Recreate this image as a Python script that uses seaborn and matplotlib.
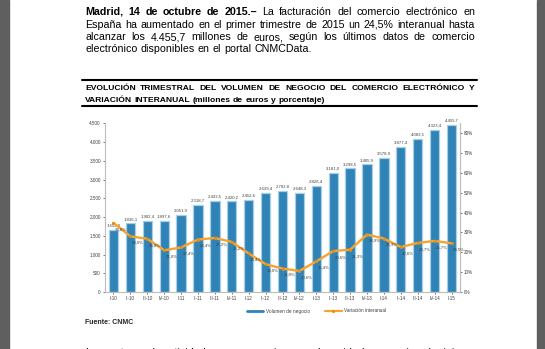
import numpy as np
import pandas as pd
import matplotlib
matplotlib.use("Agg")
import matplotlib.pyplot as plt
import seaborn as sns
from matplotlib.lines import Line2D
from matplotlib.patches import Rectangle

# --- datos ---------------------------------------------------------------
trimestres = ["I-10", "II-10", "III-10", "IV-10",
              "I-11", "II-11", "III-11", "IV-11",
              "I-12", "II-12", "III-12", "IV-12",
              "I-13", "II-13", "III-13", "IV-13",
              "I-14", "II-14", "III-14", "IV-14",
              "I-15"]
volumen_negocio = [1652.8, 1836.1, 1902.4, 1897.6,
                   2051.9, 2318.7, 2433.5, 2420.2,
                   2452.6, 2639.4, 2702.8, 2648.3,
                   2826.4, 3181.0, 3298.5, 3405.9,
                   3578.9, 3877.4, 4083.5, 4323.4,
                   4455.7]
variacion_interanual = [34.8, 28.0, 26.8, 21.0,
                        22.4, 26.4, 27.2, 25.2,
                        19.4, 14.0, 11.8, 10.6,
                        15.4, 20.6, 21.3, 28.9,
                        26.9, 22.6, 24.7, 25.7,
                        24.5]
eje_volumen = [0, 500, 1000, 1500, 2000, 2500, 3000, 3500, 4000, 4500]
eje_variacion = [0, 10, 20, 30, 40, 50, 60, 70, 80]
leyenda = ["Volumen de negocio", "Variación interanual"]

entradilla = "Madrid, 14 de octubre de 2015.–"
parrafo = [
    "Madrid, 14 de octubre de 2015.– La facturación del comercio electrónico en",
    "España ha aumentado en el primer trimestre de 2015 un 24,5% interanual hasta",
    "alcanzar los 4.455,7 millones de euros, según los últimos datos de comercio",
    "electrónico disponibles en el portal CNMCData.",
]
titulo = [
    "EVOLUCIÓN TRIMESTRAL DEL VOLUMEN DE NEGOCIO DEL COMERCIO ELECTRÓNICO Y",
    "VARIACIÓN INTERANUAL (millones de euros y porcentaje)",
]
fuente = "Fuente: CNMC"
siguiente = "Los sectores de actividad con mayores ingresos han sido las agencias de viajes y"

# --- estilo ---------------------------------------------------------------
sns.set_theme(style="white")
plt.rcParams["font.family"] = ["Liberation Sans", "DejaVu Sans"]

AZUL = "#2f83b6"
AZUL_CLARO = "#a6cfe8"
NARANJA = "#f7a42f"
GRIS_TXT = "#404040"

W, H = 545, 349
fig = plt.figure(figsize=(W / 100, H / 100), dpi=100)
fig.patch.set_facecolor("white")
renderer = fig.canvas.get_renderer()


def fx(x):
    return x / W


def fy(y):
    return 1 - y / H


def ancho(texto, size, weight):
    t = fig.text(0, 0, texto, fontsize=size, fontweight=weight)
    w = t.get_window_extent(renderer).width
    t.remove()
    return w


def linea(palabras, x0, x1, base, size, justificar=True, color="black"):
    anchos = [ancho(p, size, w) for p, w in palabras]
    espacio = ancho("n n", size, "normal") - ancho("nn", size, "normal")
    if justificar and len(palabras) > 1:
        espacio = (x1 - x0 - sum(anchos)) / (len(palabras) - 1)
    x = x0
    for (p, w), a in zip(palabras, anchos):
        fig.text(fx(x), fy(base), p, fontsize=size, fontweight=w,
                 va="baseline", ha="left", color=color)
        x += a + espacio


# --- párrafo de texto -----------------------------------------------------
n_negrita = len(entradilla.split())
for k, texto in enumerate(parrafo):
    palabras = []
    for j, p in enumerate(texto.split()):
        peso = "bold" if (k == 0 and j < n_negrita) else "normal"
        palabras.append((p, peso))
    linea(palabras, 85, 475, 15 + 12.5 * k, 7.7,
          justificar=(k < len(parrafo) - 1))

# --- título enmarcado ------------------------------------------------------
fig.add_artist(Line2D([fx(82), fx(477)], [fy(80), fy(80)],
                      color="black", lw=1.5, transform=fig.transFigure))
fig.add_artist(Line2D([fx(82), fx(477)], [fy(105.7), fy(105.7)],
                      color="black", lw=1.5, transform=fig.transFigure))
linea([(p, "bold") for p in titulo[0].split()], 85, 475, 89.5, 6.1)
linea([(p, "bold") for p in titulo[1].split()], 85, 475, 101.5, 6.1,
      justificar=False)

# --- gráfico ---------------------------------------------------------------
df = pd.DataFrame({"trimestre": trimestres,
                   "volumen": volumen_negocio,
                   "variacion": variacion_interanual})

ax = fig.add_axes([fx(105), fy(292), (460 - 105) / W, (292 - 123.3) / H])
sns.barplot(data=df, x="trimestre", y="volumen", color=AZUL, saturation=1,
            width=0.55, edgecolor=AZUL_CLARO, linewidth=0.9, ax=ax, zorder=2)
ax.set_xlim(-0.5, len(trimestres) - 0.5)
ax.set_ylim(0, 4500)
ax.set_yticks(eje_volumen)
ax.set_yticklabels([f"{v:,}".replace(",", ".") for v in eje_volumen])
ax.set_xlabel("")
ax.set_ylabel("")
ax.tick_params(axis="both", labelsize=3.3, colors=GRIS_TXT, length=1.5,
               width=0.5, pad=1.5, left=True, bottom=True)
ax.spines["top"].set_visible(False)
for s in ["left", "right", "bottom"]:
    ax.spines[s].set_color("#bdbdbd")
    ax.spines[s].set_linewidth(0.8)

for i, v in enumerate(volumen_negocio):
    ax.annotate(f"{v:,.1f}".replace(",", "X").replace(".", ",").replace("X", "."),
                (i, v), xytext=(0, 1.5), textcoords="offset points",
                ha="center", va="bottom", fontsize=3.1, color=GRIS_TXT)

ax2 = ax.twinx()
sns.lineplot(x=np.arange(len(trimestres)), y=variacion_interanual, ax=ax2,
             color=NARANJA, linewidth=1.7, marker="o", markersize=2.2,
             markeredgewidth=0, markerfacecolor="#e98c12", zorder=3)
ax2.set_ylim(0, 84.9)
ax2.set_yticks(eje_variacion)
ax2.set_yticklabels([f"{v}%" for v in eje_variacion])
ax2.set_ylabel("")
ax2.tick_params(axis="y", labelsize=3.3, colors=GRIS_TXT, length=1.5,
                width=0.5, pad=1.5, right=True)
for s in ["top", "left", "bottom"]:
    ax2.spines[s].set_visible(False)
ax2.spines["right"].set_color("#bdbdbd")
ax2.spines["right"].set_linewidth(0.8)

for i, p in enumerate(variacion_interanual):
    ax2.annotate(f"{p:.1f}%".replace(".", ","), (i, p), xytext=(1.0, -3.2),
                 textcoords="offset points", ha="left", va="top",
                 fontsize=3.1, color=GRIS_TXT)

handles = [Line2D([], [], color=AZUL, lw=2),
           Line2D([], [], color=NARANJA, lw=1.6, marker="o", markersize=2.2,
                  markeredgewidth=0, markerfacecolor="#e98c12")]
fig.legend(handles, leyenda, loc="center", bbox_to_anchor=(fx(316.5), fy(311)),
           ncol=2, frameon=False, fontsize=3.4, handlelength=3.5,
           handletextpad=0.5, columnspacing=3.2, labelcolor=GRIS_TXT)

fig.text(fx(85), fy(323.5), fuente, fontsize=5, fontweight="bold",
         va="baseline", ha="left")

linea([(p, "normal") for p in siguiente.split()], 85, 475, 356, 7.7)

# márgenes grises del visor
fig.add_artist(Rectangle((0, 0), fx(9), 1, transform=fig.transFigure,
                         color="#5f5f5f", zorder=10))
fig.add_artist(Rectangle((fx(537), 0), 1 - fx(537), 1, transform=fig.transFigure,
                         color="#5f5f5f", zorder=10))

fig.savefig("out.png", dpi=100)
